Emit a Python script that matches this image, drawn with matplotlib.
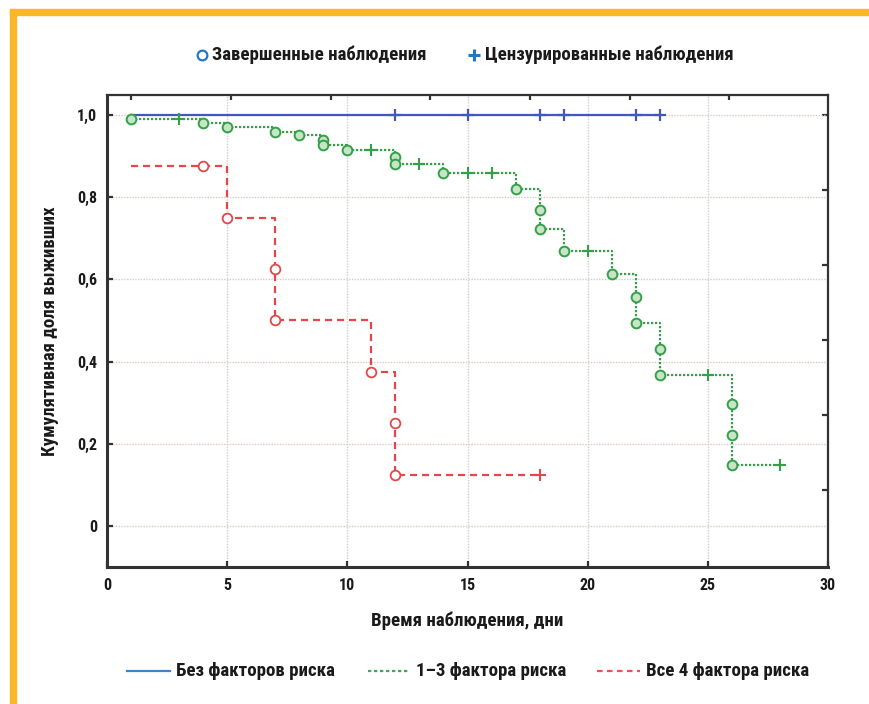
import matplotlib
matplotlib.use("Agg")
import matplotlib.pyplot as plt
from matplotlib import font_manager
from matplotlib.lines import Line2D
from matplotlib.patches import Rectangle

# ---------------- data ----------------
# No risk factors (blue)
blue_times = [1, 23]
blue_surv = [1.0, 1.0]
blue_cens_x = [12, 15, 18, 19, 22, 23]
blue_cens_y = [1.0, 1.0, 1.0, 1.0, 1.0, 1.0]

# 1-3 risk factors (green) step curve
green_times = [1, 4, 5, 7, 8, 9, 10, 12, 14, 17, 18, 19, 21, 22, 23, 26, 28]
green_surv = [0.990, 0.980, 0.972, 0.959, 0.951, 0.927, 0.915, 0.882, 0.858,
              0.820, 0.723, 0.670, 0.614, 0.493, 0.367, 0.148, 0.148]
green_event_x = [1, 4, 5, 7, 8, 9, 9, 10, 12, 12, 14, 17, 18, 18, 19, 21, 22, 22,
                 23, 23, 26, 26, 26]
green_event_y = [0.990, 0.980, 0.972, 0.959, 0.951, 0.939, 0.927, 0.915, 0.899,
                 0.882, 0.858, 0.820, 0.770, 0.723, 0.670, 0.614, 0.556, 0.493,
                 0.431, 0.367, 0.296, 0.221, 0.148]
green_cens_x = [3, 11, 13, 15, 16, 20, 25, 28]
green_cens_y = [0.990, 0.915, 0.882, 0.858, 0.858, 0.670, 0.367, 0.148]

# All 4 risk factors (red)
red_times = [1, 5, 7, 11, 12, 18]
red_surv = [0.875, 0.750, 0.500, 0.375, 0.125, 0.125]
red_event_x = [4, 5, 7, 7, 11, 12, 12]
red_event_y = [0.875, 0.750, 0.625, 0.500, 0.375, 0.250, 0.125]
red_cens_x = [18]
red_cens_y = [0.125]

x_ticks = [0, 5, 10, 15, 20, 25, 30]
y_ticks = [0, 0.2, 0.4, 0.6, 0.8, 1.0]
y_tick_labels = ["0", "0,2", "0,4", "0,6", "0,8", "1,0"]
top_ticks = [1.0, 5.15, 9.3, 13.45, 17.6, 21.75, 25.9]
right_ticks = [1.0, 0.8175, 0.635, 0.4525, 0.27, 0.0875]

top_legend = ["Завершенные наблюдения", "Цензурированные наблюдения"]
bottom_legend = ["Без факторов риска", "1–3 фактора риска", "Все 4 фактора риска"]
xlabel = "Время наблюдения, дни"
ylabel = "Кумулятивная доля выживших"

# ---------------- fonts ----------------
def pick_font():
    for name in ["Liberation Sans Narrow", "Roboto Condensed", "DejaVu Sans"]:
        try:
            font_manager.findfont(font_manager.FontProperties(family=name),
                                  fallback_to_default=False)
            return name
        except Exception:
            pass
    return "DejaVu Sans"

FONT = pick_font()
plt.rcParams["font.family"] = [FONT, "DejaVu Sans"]
plt.rcParams["font.weight"] = "bold"

BLUE = "#4058b8"
GREEN = "#34a048"
RED = "#e2474a"
TXT = "#1a1a1a"
GRID = "#d8cac4"
FS = 13.6

fig = plt.figure(figsize=(8.69, 7.04), dpi=100)
fig.patch.set_facecolor("white")

# orange frame
fig.patches.append(Rectangle((10 / 869, 0), 6 / 869, 1 - 10 / 704,
                             transform=fig.transFigure, color="#fbb62a", zorder=0))
fig.patches.append(Rectangle((10 / 869, 1 - 15 / 704), 1, 6 / 704,
                             transform=fig.transFigure, color="#fbb62a", zorder=0))

ax = fig.add_axes([107 / 869, 1 - 567 / 704, 721 / 869, (567 - 94.5) / 704])
ax.set_xlim(0, 30)
ax.set_ylim(-0.1, 1.05)

# grid
for gx in x_ticks[1:-1]:
    ax.axvline(gx, color=GRID, lw=1.0, ls=(0, (1, 1)), zorder=1)
for gy in y_ticks:
    ax.axhline(gy, color=GRID, lw=1.0, ls=(0, (1, 1)), zorder=1)

# curves
ax.step(blue_times, blue_surv, where="post", color=BLUE, lw=1.6, zorder=3)
ax.plot(blue_cens_x, blue_cens_y, ls="none", marker="+", ms=9, mew=1.6,
        color=BLUE, zorder=4)

ax.step(green_times, green_surv, where="post", color=GREEN, lw=1.6,
        ls=(0, (1, 0.8)), zorder=3)
ax.plot(green_event_x, green_event_y, ls="none", marker="o", ms=7, mew=1.4,
        mfc="#c6e4c6", mec=GREEN, zorder=4)
ax.plot(green_cens_x, green_cens_y, ls="none", marker="+", ms=9, mew=1.5,
        color=GREEN, zorder=4)

ax.step(red_times, red_surv, where="post", color=RED, lw=1.6,
        ls=(0, (3.2, 2.2)), zorder=3)
ax.plot(red_event_x, red_event_y, ls="none", marker="o", ms=7, mew=1.3,
        mfc="white", mec=RED, zorder=4)
ax.plot(red_cens_x, red_cens_y, ls="none", marker="+", ms=9, mew=1.5,
        color=RED, zorder=4)

# axes styling
for sp in ax.spines.values():
    sp.set_color("#333333")
    sp.set_linewidth(1.6)
ax.spines["left"].set_linewidth(2.2)
ax.spines["bottom"].set_linewidth(2.2)

ax.set_xticks(x_ticks)
ax.set_xticklabels([str(v) for v in x_ticks])
ax.set_yticks(y_ticks)
ax.set_yticklabels(y_tick_labels)
ax.tick_params(direction="in", length=4, width=1.6, color="#333333",
               labelsize=11.5, labelcolor=TXT)
ax.tick_params(axis="x", pad=8)
ax.tick_params(axis="y", pad=7)

axt = ax.secondary_xaxis("top")
axt.set_xticks(top_ticks)
axt.tick_params(direction="in", length=4, width=1.6, color="#333333",
                labeltop=False)
axr = ax.secondary_yaxis("right")
axr.set_yticks(right_ticks)
axr.tick_params(direction="in", length=4, width=1.6, color="#333333",
                labelright=False)
for a in (axt, axr):
    for sp in a.spines.values():
        sp.set_visible(False)

ax.set_xlabel(xlabel, fontsize=FS, fontweight="bold", color=TXT, labelpad=13)
ax.set_ylabel(ylabel, fontsize=FS, fontweight="bold", color=TXT, labelpad=13)

# top legend
ly = 1 - 55 / 704
fig.add_artist(Line2D([202 / 869], [ly], marker="o", ms=7, mew=1.6, mfc="white",
                      mec="#1f78c8", ls="none", transform=fig.transFigure))
fig.text(212 / 869, ly, top_legend[0], fontsize=FS, fontweight="bold",
         color=TXT, va="center", ha="left")
fig.add_artist(Line2D([474 / 869], [ly], marker="+", ms=9, mew=2.2,
                      color="#1f78c8", ls="none", transform=fig.transFigure))
fig.text(485 / 869, ly, top_legend[1], fontsize=FS, fontweight="bold",
         color=TXT, va="center", ha="left")

# bottom legend
by = 1 - 671 / 704
specs = [
    (127, 170, 176, "#3a86cc", "-"),
    (368, 410, 416, "#3aaa5a", (0, (1.5, 1.2))),
    (597, 640, 646, "#ef4f55", (0, (2.5, 2))),
]
for (x0, x1, tx, col, ls), lab in zip(specs, bottom_legend):
    fig.add_artist(Line2D([x0 / 869, x1 / 869], [by, by], color=col, lw=1.6,
                          ls=ls, transform=fig.transFigure))
    fig.text(tx / 869, by, lab, fontsize=FS, fontweight="bold", color=TXT,
             va="center", ha="left")

fig.savefig("out.png", dpi=100, facecolor="white")
